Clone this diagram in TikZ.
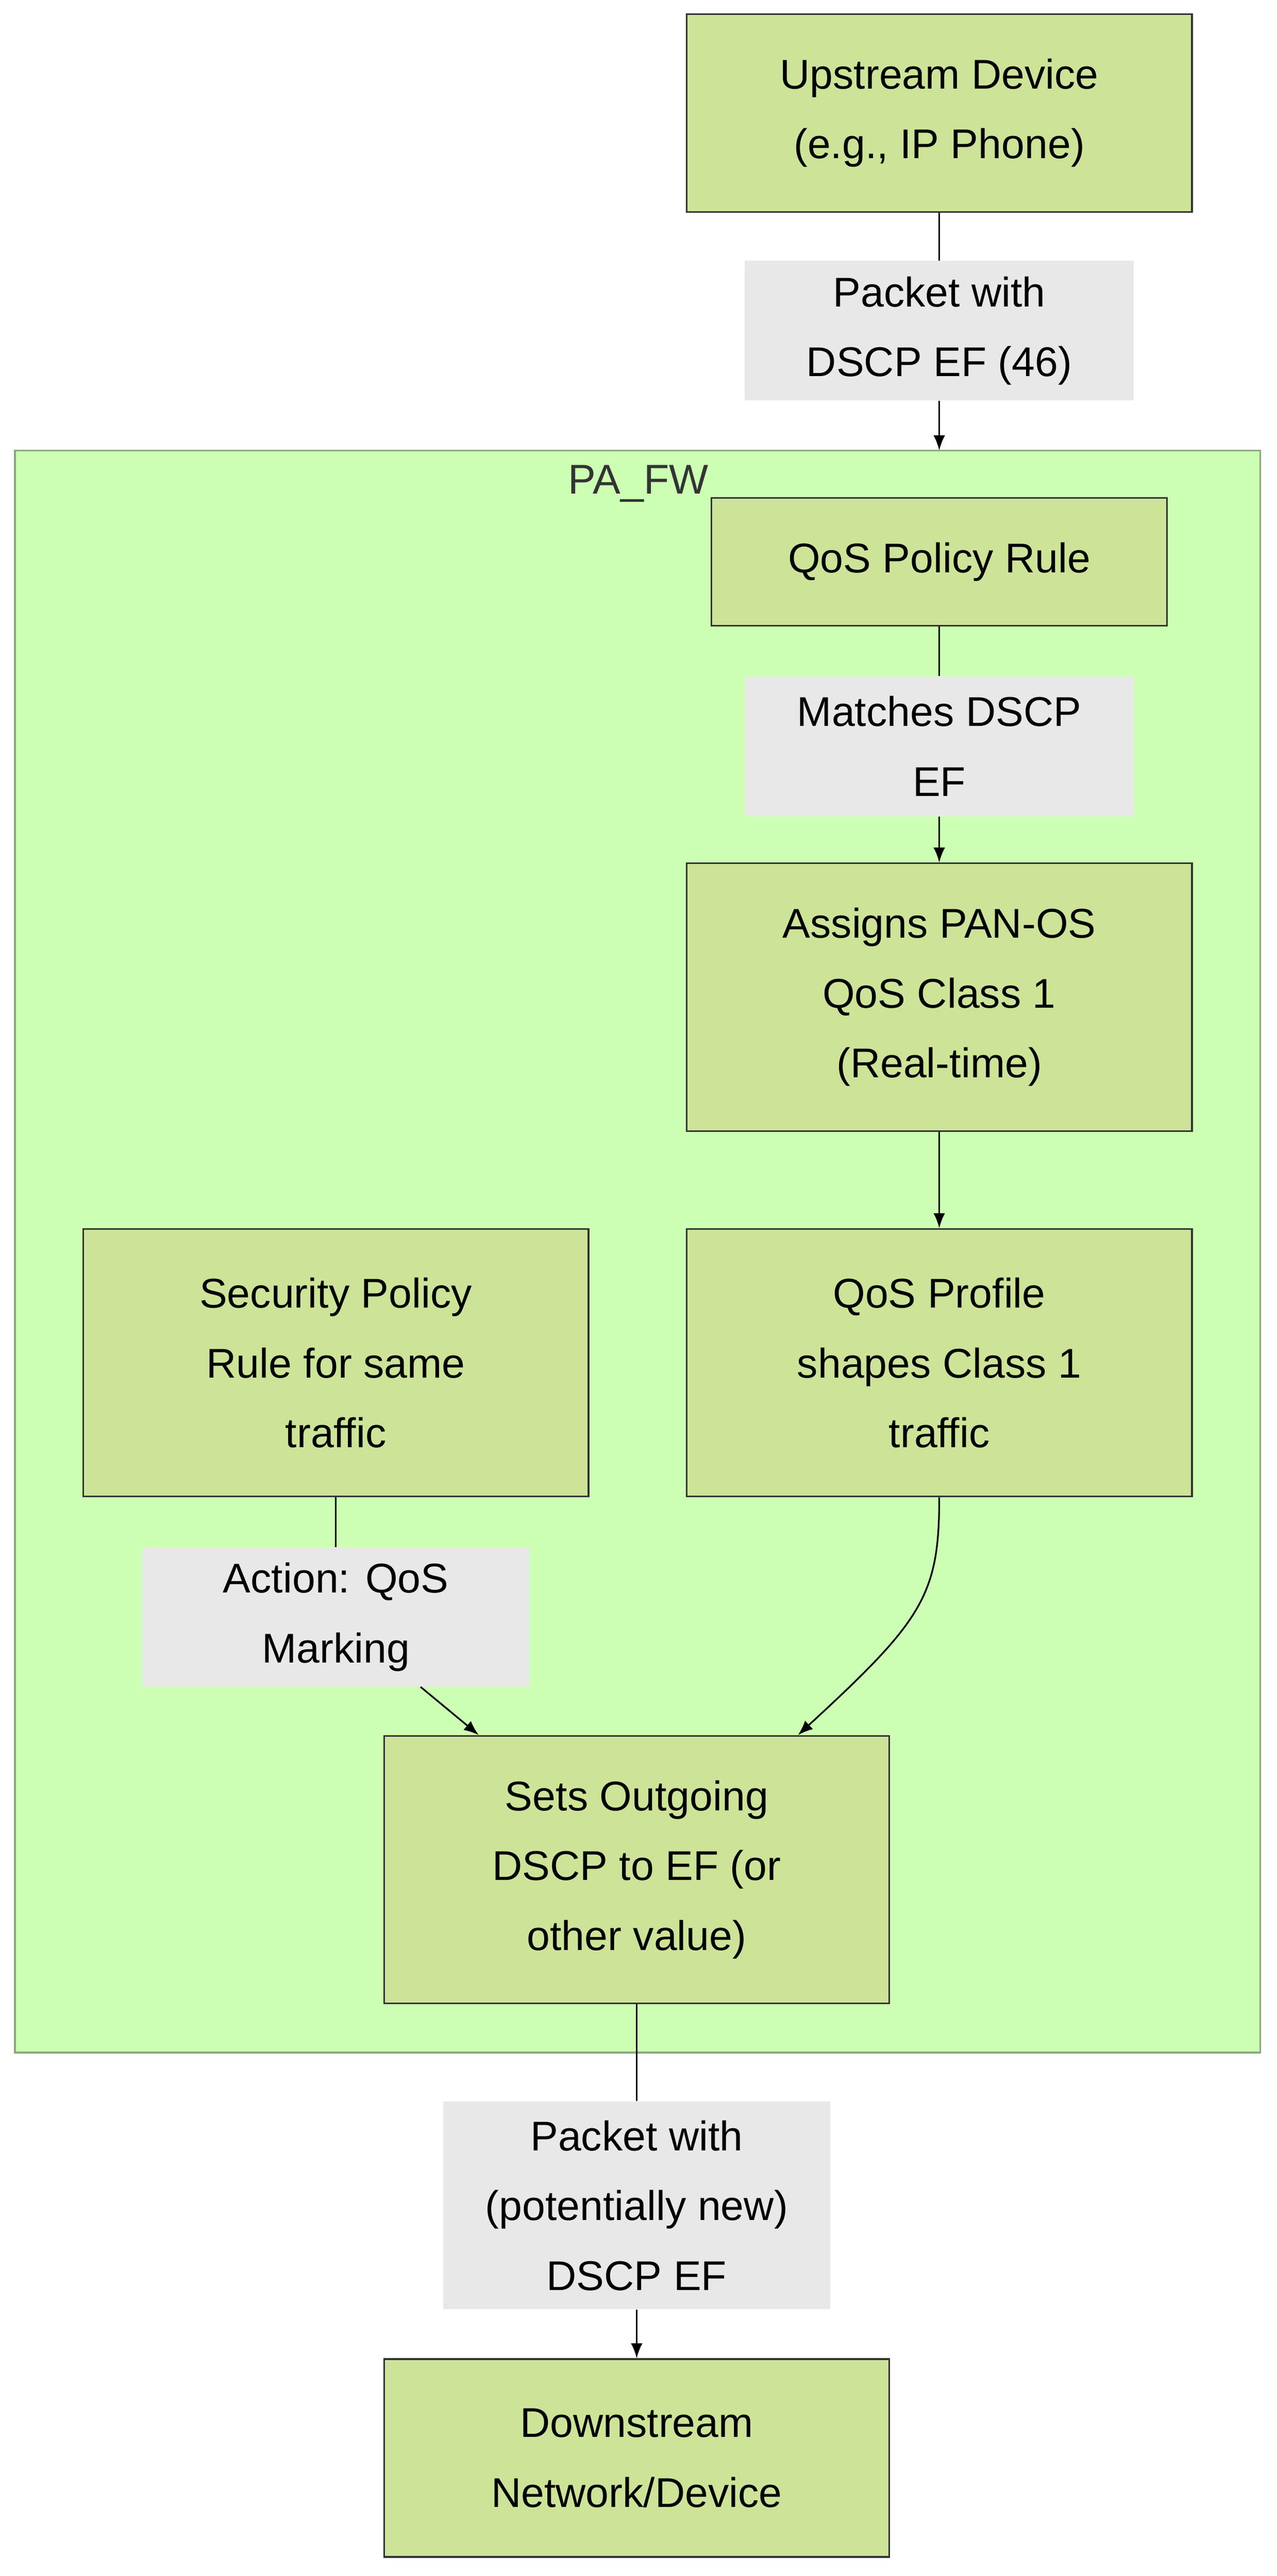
\documentclass[tikz,border=0pt]{standalone}
\usepackage{fontspec}
\setmainfont{Liberation Sans}
\usetikzlibrary{arrows.meta}
\definecolor{nodefill}{HTML}{CDE498}
\definecolor{nodeline}{HTML}{333333}
\definecolor{clfill}{HTML}{CCFFB3}
\definecolor{clline}{HTML}{8AAA7A}
\definecolor{lblfill}{HTML}{E8E8E8}
\begin{document}
\begin{tikzpicture}[x=1pt,y=-1pt,
  box/.style={draw=nodeline,fill=nodefill,line width=1pt,align=center,inner sep=0pt,font=\fontsize{25}{42}\selectfont},
  lbl/.style={fill=lblfill,align=center,inner sep=0pt,font=\fontsize{25}{42}\selectfont},
  arr/.style={draw=black,line width=1pt,-{Latex[length=9pt,width=7pt]}},
  ln/.style={draw=black,line width=1pt}]
\useasboundingbox (0,0) rectangle (768,1550);
\fill[white] (0,0) rectangle (768,1550);
\draw[fill=clfill,draw=clline,line width=1pt] (9,271) rectangle (758,1235);
\node[font=\fontsize{25}{30}\selectfont,text=black!80] (cl) at (384,291) {PA\_FW};
\node[box,minimum width=304pt,minimum height=119pt] (up) at (565,68) {Upstream Device\\ (e.g., IP Phone)};
\node[lbl,minimum width=234pt,minimum height=84pt] (l1) at (565,199) {Packet with\\DSCP EF (46)};
\node[box,minimum width=274pt,minimum height=77pt] (qp) at (565,338) {QoS Policy Rule};
\node[lbl,minimum width=234pt,minimum height=84pt] (l2) at (565,449) {Matches DSCP\\EF};
\node[box,minimum width=304pt,minimum height=161pt] (as) at (565,600) {Assigns PAN-OS\\QoS Class 1\\ (Real-time)};
\node[box,minimum width=304pt,minimum height=161pt] (pr) at (565,820) {QoS Profile\\shapes Class 1\\traffic};
\node[box,minimum width=304pt,minimum height=161pt] (sec) at (202,820) {Security Policy\\Rule for same\\traffic};
\node[lbl,minimum width=233pt,minimum height=84pt] (l3) at (202,973) {Action: QoS\\Marking};
\node[box,minimum width=304pt,minimum height=161pt] (set) at (383,1125) {Sets Outgoing\\DSCP to EF (or\\ other value)};
\node[lbl,minimum width=233pt,minimum height=125pt] (l4) at (383,1327) {Packet with\\(potentially new)\\ DSCP EF};
\node[box,minimum width=304pt,minimum height=119pt] (dn) at (383,1479) {Downstream\\Network/Device};
\coordinate (c3) at (253,1015);
\draw[ln] (up.south) -- (l1.north);
\draw[arr] (l1.south) -- (565,271);
\draw[ln] (qp.south) -- (l2.north);
\draw[arr] (l2.south) -- (as.north);
\draw[arr] (as.south) -- (pr.north);
\draw[ln] (sec.south) .. controls (202,920) .. (l3.north);
\draw[arr] (c3) -- (288,1044);
\draw[arr] (pr.south) .. controls (565,960) and (555,975) .. (480,1044);
\draw[ln] (set.south) -- (l4.north);
\draw[arr] (l4.south) -- (dn.north);
\end{tikzpicture}
\end{document}
